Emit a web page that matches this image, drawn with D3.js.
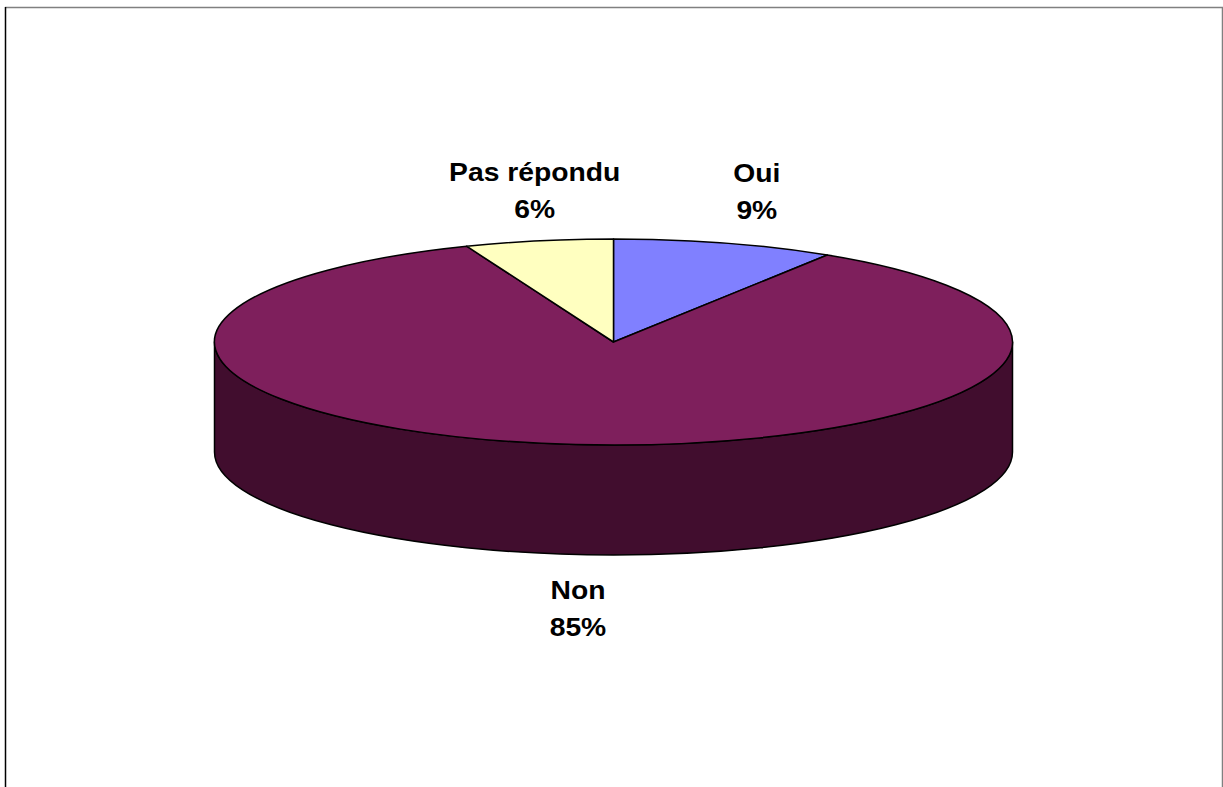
<!DOCTYPE html>
<html>
<head>
<meta charset="utf-8">
<script src="https://cdn.jsdelivr.net/npm/d3@7"></script>
<style>
  html, body { margin: 0; padding: 0; background: #fff; }
  svg { display: block; }
  .lbl { font-family: "Liberation Sans", Arial, sans-serif; font-weight: bold; font-size: 25.5px; fill: #000; }
</style>
</head>
<body>
<svg id="chart" width="1223" height="787"></svg>
<script>
// Survey answers, clockwise from 12 o'clock
const categories = ["Oui", "Non", "Pas répondu"];
const values = [9, 85, 6];
const percentLabels = ["9%", "85%", "6%"];

const topColors = ["#8080FF", "#7E1F5C", "#FFFFC0"];
const sideColors = ["#40407F", "#410D2E", "#80805F"];

const W = 1223, H = 787;
const cx = 613.5, cy = 342, rx = 399, ry = 103, depth = 110;

const svg = d3.select("#chart");

// frame
svg.append("line").attr("x1", 5).attr("x2", W).attr("y1", 7.5).attr("y2", 7.5)
  .attr("stroke", "#808080").attr("stroke-width", 1.5);
svg.append("line").attr("x1", 5.5).attr("x2", 5.5).attr("y1", 7).attr("y2", H)
  .attr("stroke", "#000").attr("stroke-width", 1.5);
svg.append("line").attr("x1", 1222.5).attr("x2", 1222.5).attr("y1", 7).attr("y2", H)
  .attr("stroke", "#808080").attr("stroke-width", 1.5);

const pie = d3.pie().sort(null).value(d => d.value).startAngle(0).endAngle(2 * Math.PI);
const data = categories.map((c, i) => ({ name: c, value: values[i], pct: percentLabels[i], top: topColors[i], side: sideColors[i] }));
const arcs = pie(data);

// point on the tilted ellipse for angle t (0 = 12 o'clock, clockwise)
const pt = (t, dy = 0) => [cx + rx * Math.sin(t), cy - ry * Math.cos(t) + dy];

const g = svg.append("g");

// side walls: only the front half (angles between 90° and 270°) is visible
arcs.forEach(a => {
  const s = Math.max(a.startAngle, Math.PI / 2);
  const e = Math.min(a.endAngle, 3 * Math.PI / 2);
  if (e <= s) return;
  const p0 = pt(s), p1 = pt(e), q1 = pt(e, depth), q0 = pt(s, depth);
  const large = (e - s) > Math.PI ? 1 : 0;
  const d = `M${p0}A${rx},${ry} 0 ${large} 1 ${p1}L${q1}A${rx},${ry} 0 ${large} 0 ${q0}Z`;
  g.append("path").attr("d", d).attr("fill", a.data.side)
    .attr("stroke", "#000").attr("stroke-width", 1.5).attr("stroke-linejoin", "round");
});

// top faces
arcs.forEach(a => {
  const p0 = pt(a.startAngle), p1 = pt(a.endAngle);
  const large = (a.endAngle - a.startAngle) > Math.PI ? 1 : 0;
  const d = `M${cx},${cy}L${p0}A${rx},${ry} 0 ${large} 1 ${p1}Z`;
  g.append("path").attr("d", d).attr("fill", a.data.top)
    .attr("stroke", "#000").attr("stroke-width", 1.5).attr("stroke-linejoin", "round");
});

// labels: anchored on the rim at each slice's mid angle, pushed outward
const labelNudge = { "Oui": [32, -24], "Non": [2, 44], "Pas répondu": [-4, -23] };
arcs.forEach(a => {
  const mid = (a.startAngle + a.endAngle) / 2;
  const front = Math.cos(mid) < 0;
  const [x, y] = pt(mid, front ? depth : 0);
  const [nx, ny] = labelNudge[a.data.name];
  const lx = x + nx, ly = y + ny;
  const t = svg.append("g").attr("transform", `translate(${lx},${ly}) scale(1.11,1)`);
  const firstBase = front ? 0 : -37;
  t.append("text").attr("class", "lbl").attr("text-anchor", "middle")
    .attr("y", firstBase).text(a.data.name);
  t.append("text").attr("class", "lbl").attr("text-anchor", "middle")
    .attr("y", firstBase + 37).text(a.data.pct);
});
</script>
</body>
</html>
